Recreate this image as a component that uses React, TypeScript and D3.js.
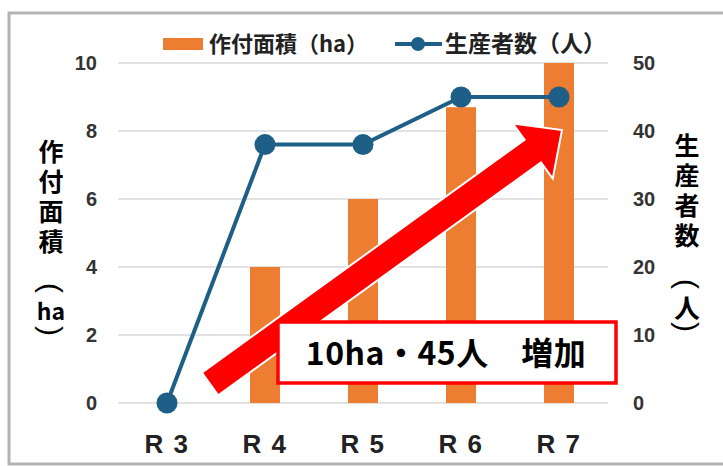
import React from "react";
import * as d3 from "d3";

const categories = ["R 3", "R 4", "R 5", "R 6", "R 7"];
const areaHa = [0, 4, 6, 8.7, 10];
const producers = [0, 38, 38, 45, 45];
const leftTicks = [0, 2, 4, 6, 8, 10];
const rightTicks = [0, 10, 20, 30, 40, 50];
const leftTitle = { main: "作付面積", unit: "ha" };
const rightTitle = { main: "生産者数", unit: "人" };
const callout = "10ha・45人　増加";

const W = 723;
const H = 466;
const JP = "'Noto Sans CJK JP', 'Noto Sans', sans-serif";
const LAT = "'Liberation Sans', Arial, sans-serif";

// vertical axis title: stacked CJK text, then unit between rotated parens
const VTitle = ({ main, unit, x, top, unitY }: { main: string; unit: string; x: number; top: number; unitY: number }) => {
  const paren = (ch: string, yy: number) => (
    <text x={0} y={0} transform={`translate(${x},${yy}) rotate(90)`} textAnchor="middle"
      dominantBaseline="central" fontFamily={LAT} fontSize={30} fill="#000">{ch}</text>
  );
  return (
    <g>
      <text x={x} y={top} style={{ writingMode: "vertical-rl" } as any} fontFamily={JP}
        fontWeight="bold" fontSize={25} letterSpacing={5} fill="#000">{main}</text>
      {paren("(", unitY - 22)}
      <text x={x} y={unitY} dominantBaseline="central" textAnchor="middle" fontFamily={JP}
        fontWeight="bold" fontSize={unit === "ha" ? 23 : 26} fill="#000">{unit}</text>
      {paren(")", unitY + 21)}
    </g>
  );
};

const App = () => {
  const x = d3.scaleBand<string>().domain(categories).range([118, 608]);
  const y = d3.scaleLinear().domain([0, 10]).range([403, 63]);
  const y2 = d3.scaleLinear().domain([0, 50]).range([403, 63]);
  const cx = (c: string) => (x(c) ?? 0) + x.bandwidth() / 2;
  const barW = 30;

  const line = d3.line<number>()
    .x((d, i) => cx(categories[i]))
    .y(d => y2(d));

  // arrow annotation (tail center -> tip)
  const tail = [210, 384];
  const tip = [562, 130];
  const L = Math.hypot(tip[0] - tail[0], tip[1] - tail[1]);
  const ang = (Math.atan2(tip[1] - tail[1], tip[0] - tail[0]) * 180) / Math.PI;
  const sw = 14, hl = 36, hw = 34;
  const arrowPts = [
    [0, -sw], [L - hl, -sw], [L - hl, -hw], [L, 0],
    [L - hl, hw], [L - hl, sw], [0, sw],
  ].map(p => p.join(",")).join(" ");

  return (
    <svg width={W} height={H} style={{ position: "absolute", left: 0, top: 0, background: "#fff" }}>
      <rect x={9} y={13} width={730} height={451} fill="#fff" stroke="#b3b3b3" strokeWidth={3} />

      {/* gridlines */}
      {leftTicks.map(t => (
        <line key={t} x1={118} x2={608} y1={y(t)} y2={y(t)} stroke="#d9d9d9" strokeWidth={1.5} />
      ))}

      {/* bars */}
      {categories.map((c, i) => (
        <rect key={c} x={cx(c) - barW / 2} y={y(areaHa[i])} width={barW}
          height={y(0) - y(areaHa[i])} fill="#ED7D31" />
      ))}

      {/* line + markers */}
      <path d={line(producers) ?? ""} fill="none" stroke="#1d5f86" strokeWidth={4} />
      {producers.map((v, i) => (
        <circle key={i} cx={cx(categories[i])} cy={y2(v)} r={10.5} fill="#1d5f86" />
      ))}

      {/* left ticks */}
      {leftTicks.map(t => (
        <text key={t} x={97} y={y(t)} dy="0.36em" textAnchor="end" fontFamily={LAT}
          fontWeight="bold" fontSize={20} fill="#333">{t}</text>
      ))}
      {/* right ticks */}
      {rightTicks.map(t => (
        <text key={t} x={633} y={y2(t)} dy="0.36em" textAnchor="start" fontFamily={LAT}
          fontWeight="bold" fontSize={20} fill="#333">{t}</text>
      ))}
      {/* category labels */}
      {categories.map(c => (
        <text key={c} x={cx(c)} y={453} textAnchor="middle" fontFamily={LAT}
          fontWeight="bold" fontSize={26} letterSpacing={1.5} fill="#222">{c}</text>
      ))}

      {/* axis titles */}
      <VTitle main={leftTitle.main} unit={leftTitle.unit} x={51} top={139} unitY={310} />
      <VTitle main={rightTitle.main} unit={rightTitle.unit} x={687} top={133} unitY={306} />

      {/* legend */}
      <rect x={163} y={38} width={40} height={12} fill="#ED7D31" />
      <text x={209} y={44} dy="0.36em" fontFamily={JP} fontWeight="bold" fontSize={22} fill="#222">作付面積（ha）</text>
      <line x1={395} x2={442} y1={44} y2={44} stroke="#1d5f86" strokeWidth={4} />
      <circle cx={418} cy={44} r={7} fill="#1d5f86" />
      <text x={445} y={44} dy="0.36em" fontFamily={JP} fontWeight="bold" fontSize={23} fill="#222">生産者数（人）</text>

      {/* arrow */}
      <polygon points={arrowPts} transform={`translate(${tail[0]},${tail[1]}) rotate(${ang})`}
        fill="#ff0000" stroke="#fff" strokeWidth={2} strokeLinejoin="miter" />

      {/* callout */}
      <rect x={278} y={322} width={338} height={61} fill="#fff" stroke="#ff0000" strokeWidth={3.5} />
      <text x={446} y={353} dy="0.36em" textAnchor="middle" fontFamily={JP} fontWeight="bold"
        fontSize={32} letterSpacing={0.5} fill="#000">{callout}</text>
    </svg>
  );
};

export default App;
